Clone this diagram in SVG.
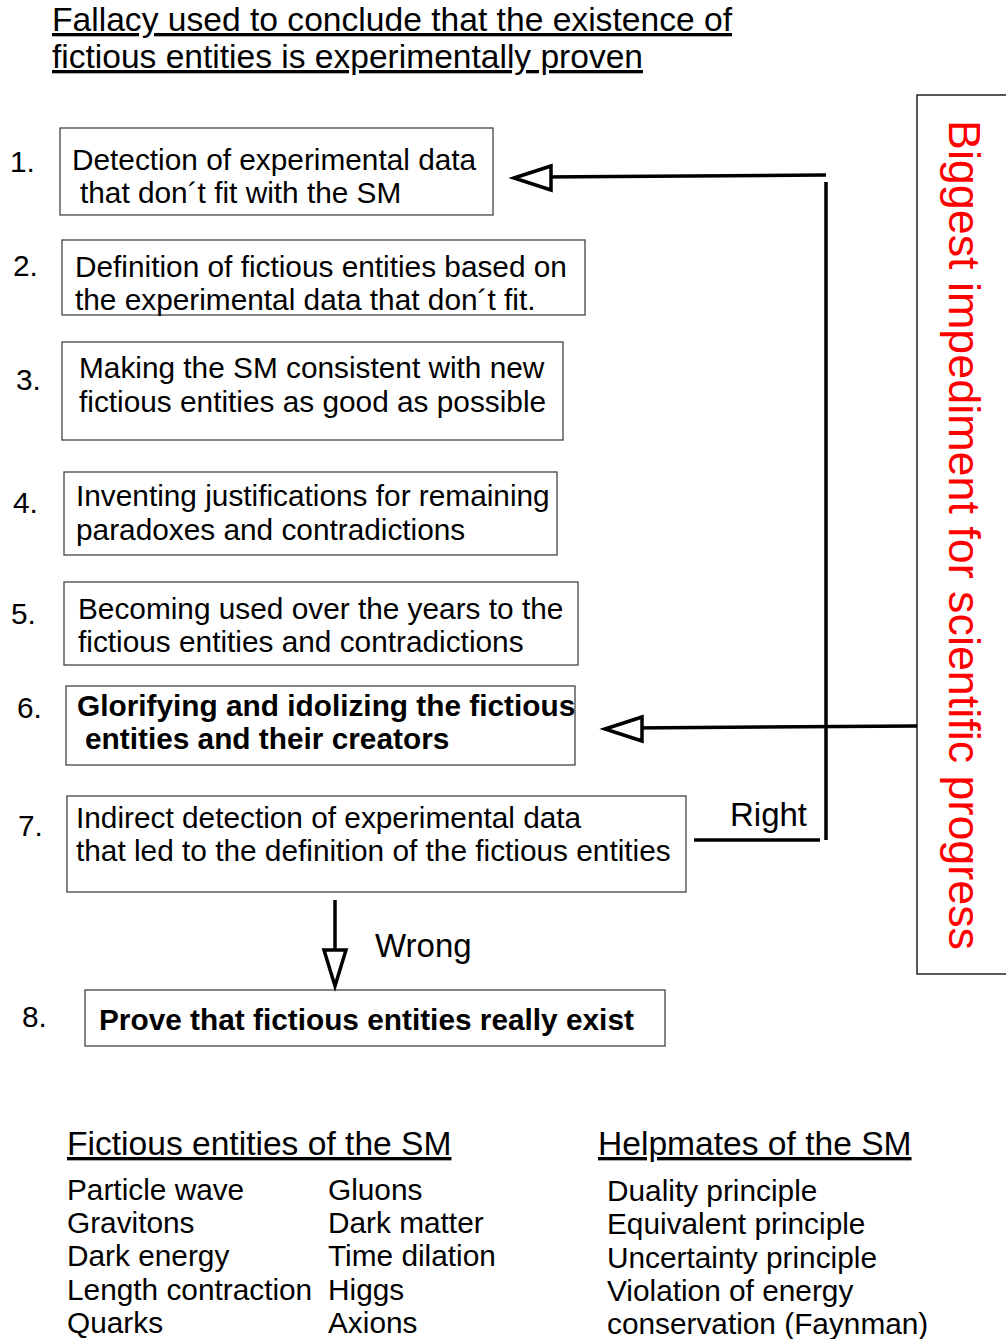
<svg xmlns="http://www.w3.org/2000/svg" width="1006" height="1339" viewBox="0 0 1006 1339">
<style>
.t{font-family:"Liberation Sans",Arial,sans-serif;font-size:29.8px;fill:#000}
.b{font-weight:bold}
.lbl{font-size:33px}
.box{fill:#fff;stroke:#444;stroke-width:1.3}
.ln{stroke:#000;stroke-width:3.5;fill:none}
.ah{fill:#fff;stroke:#000;stroke-width:3.5}
.h{font-family:"Liberation Sans",Arial,sans-serif;font-size:33.6px;text-decoration:underline}
.ttl{font-family:"Liberation Sans Narrow","Liberation Sans",Arial,sans-serif;font-size:33px;text-decoration:underline}
</style>
<rect width="1006" height="1339" fill="#fff"/>
<g id="title">
<text class="ttl" x="52" y="31" textLength="680" lengthAdjust="spacingAndGlyphs">Fallacy used to conclude that the existence of</text>
<text class="ttl" x="52" y="68" textLength="591" lengthAdjust="spacingAndGlyphs">fictious entities is experimentally proven</text>
</g>
<g id="n1"><rect class="box" x="60" y="128" width="433" height="87"/><text class="t" x="10" y="172">1.</text><text class="t" x="72" y="170">Detection of experimental data</text><text class="t" x="80" y="203">that don´t fit with the SM</text></g>
<g id="n2"><rect class="box" x="62" y="240" width="523" height="75"/><text class="t" x="13" y="276">2.</text><text class="t" x="75" y="277">Definition of fictious entities based on</text><text class="t" x="75" y="310">the experimental data that don´t fit.</text></g>
<g id="n3"><rect class="box" x="62" y="342" width="501" height="98"/><text class="t" x="16" y="390">3.</text><text class="t" x="79" y="378">Making the SM consistent with new</text><text class="t" x="79" y="412">fictious entities as good as possible</text></g>
<g id="n4"><rect class="box" x="64" y="472" width="493" height="83"/><text class="t" x="13" y="513">4.</text><text class="t" x="76" y="506">Inventing justifications for remaining</text><text class="t" x="76" y="540">paradoxes and contradictions</text></g>
<g id="n5"><rect class="box" x="64" y="582" width="514" height="83"/><text class="t" x="11" y="624">5.</text><text class="t" x="78" y="619">Becoming used over the years to the</text><text class="t" x="78" y="652">fictious entities and contradictions</text></g>
<g id="n6"><rect class="box" x="66" y="686" width="509" height="79"/><text class="t" x="17" y="718">6.</text><text class="t b" x="77" y="716">Glorifying and idolizing the fictious</text><text class="t b" x="85" y="749">entities and their creators</text></g>
<g id="n7"><rect class="box" x="67" y="796" width="619" height="96"/><text class="t" x="18" y="836">7.</text><text class="t" x="76" y="828">Indirect detection of experimental data</text><text class="t" x="76" y="861">that led to the definition of the fictious entities</text></g>
<g id="n8"><rect class="box" x="85" y="990" width="580" height="56"/><text class="t" x="22" y="1027">8.</text><text class="t b" x="99" y="1030">Prove that fictious entities really exist</text></g>
<g id="side"><rect x="917" y="95" width="100" height="879" fill="#fff" stroke="#000" stroke-width="1.3"/><text font-family="'Liberation Sans',Arial,sans-serif" font-size="45" fill="#f00" transform="translate(949,120) rotate(90)" textLength="830" lengthAdjust="spacingAndGlyphs">Biggest impediment for scientific progress</text></g>
<g id="connectors">
<path class="ln" d="M826 175 L540 177"/>
<path class="ln" d="M826 182 V840"/>
<path class="ln" d="M694 840 H820"/>
<path class="ln" d="M917 726 L630 728"/>
<path class="ln" d="M335 900 V960"/>
<polygon class="ah" points="514,178 551,166 551,190"/>
<polygon class="ah" points="605,729 642,717 642,741"/>
<polygon class="ah" points="335,986 324,950 346,950"/>
<text class="t lbl" x="730" y="826">Right</text>
<text class="t lbl" x="375" y="957">Wrong</text>
</g>
<g id="lists">
<text class="h" x="67" y="1155">Fictious entities of the SM</text>
<text class="t" x="67" y="1200">Particle wave</text>
<text class="t" x="67" y="1233">Gravitons</text>
<text class="t" x="67" y="1266">Dark energy</text>
<text class="t" x="67" y="1300">Length contraction</text>
<text class="t" x="67" y="1333">Quarks</text>
<text class="t" x="328" y="1200">Gluons</text>
<text class="t" x="328" y="1233">Dark matter</text>
<text class="t" x="328" y="1266">Time dilation</text>
<text class="t" x="328" y="1300">Higgs</text>
<text class="t" x="328" y="1333">Axions</text>
<text class="h" x="598" y="1155">Helpmates of the SM</text>
<text class="t" x="607" y="1201">Duality principle</text>
<text class="t" x="607" y="1234">Equivalent principle</text>
<text class="t" x="607" y="1268">Uncertainty principle</text>
<text class="t" x="607" y="1301">Violation of energy</text>
<text class="t" x="607" y="1334">conservation (Faynman)</text>
</g>
</svg>
